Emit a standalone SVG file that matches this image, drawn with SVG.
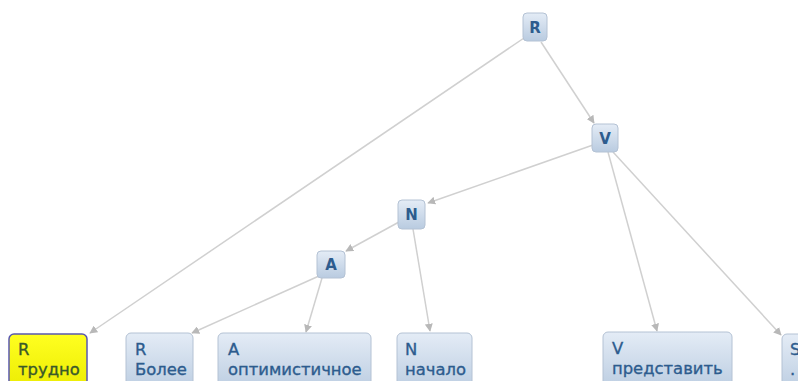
<svg xmlns="http://www.w3.org/2000/svg" width="798" height="381" viewBox="0 0 798 381">
<defs>
<linearGradient id="gb" x1="0" y1="0" x2="0" y2="1">
<stop offset="0" stop-color="#e4ecf6"/>
<stop offset="1" stop-color="#b9cbe0"/>
</linearGradient>
<linearGradient id="gy" x1="0" y1="0" x2="0" y2="1">
<stop offset="0" stop-color="#ffff20"/>
<stop offset="1" stop-color="#eaea00"/>
</linearGradient>
<marker id="ah" viewBox="0 0 10 10" refX="9" refY="5" markerWidth="8" markerHeight="8" markerUnits="userSpaceOnUse" orient="auto">
<path d="M0,0 L10,5 L0,10 z" fill="#b8b8b8"/>
</marker>
</defs>
<style>
.n rect{fill:url(#gb);stroke:#b4c2d4;stroke-width:1}
.n.y rect{fill:url(#gy);stroke:#5a58b0;stroke-width:1.5}
.n text{font-family:"DejaVu Sans",sans-serif;fill:#2d5c8e}
.s text{font-size:15px;font-weight:bold;text-anchor:middle}
.b text{font-size:16.4px;stroke:#2d5c8e;stroke-width:0.35}
.y text{fill:#3a5a2a;stroke:#3a5a2a}
#edges line{stroke:#d0d0d0;stroke-width:1.5;marker-end:url(#ah)}
</style>
<rect width="798" height="381" fill="#ffffff"/>
<g id="edges">
<line x1="524" y1="38" x2="90" y2="333"/>
<line x1="541" y1="42" x2="594" y2="123"/>
<line x1="593" y1="145" x2="428" y2="203"/>
<line x1="608" y1="152" x2="657" y2="331"/>
<line x1="613" y1="152" x2="781" y2="335"/>
<line x1="399" y1="222" x2="346" y2="251"/>
<line x1="413" y1="229" x2="430" y2="331"/>
<line x1="319" y1="276" x2="192" y2="333"/>
<line x1="322" y1="278" x2="306" y2="332"/>
</g>
<g id="n_R" class="n s"><rect x="523" y="13" width="24" height="28" rx="4"/><text x="535" y="33">R</text></g>
<g id="n_V" class="n s"><rect x="592" y="124" width="26" height="28" rx="4"/><text x="605" y="144">V</text></g>
<g id="n_N" class="n s"><rect x="398" y="200" width="27" height="29" rx="4"/><text x="411.5" y="220">N</text></g>
<g id="n_A" class="n s"><rect x="317" y="251" width="28" height="27" rx="4"/><text x="331" y="270">A</text></g>
<g id="n_R_trudno" class="n b y"><rect x="9" y="334" width="78" height="60" rx="5"/><text x="18" y="355">R</text><text x="18" y="375">трудно</text></g>
<g id="n_R_bolee" class="n b"><rect x="126" y="333" width="67" height="60" rx="5"/><text x="135" y="355">R</text><text x="135" y="375">Более</text></g>
<g id="n_A_opt" class="n b"><rect x="218" y="333" width="153" height="60" rx="5"/><text x="228" y="355">A</text><text x="228" y="375">оптимистичное</text></g>
<g id="n_N_nachalo" class="n b"><rect x="397" y="333" width="75" height="60" rx="5"/><text x="405" y="355">N</text><text x="405" y="375">начало</text></g>
<g id="n_V_pred" class="n b"><rect x="603" y="332" width="129" height="60" rx="5"/><text x="612" y="354">V</text><text x="612" y="374">представить</text></g>
<g id="n_S" class="n b"><rect x="782" y="334" width="50" height="60" rx="5"/><text x="790" y="355">S</text><text x="790" y="375">.</text></g>
</svg>
